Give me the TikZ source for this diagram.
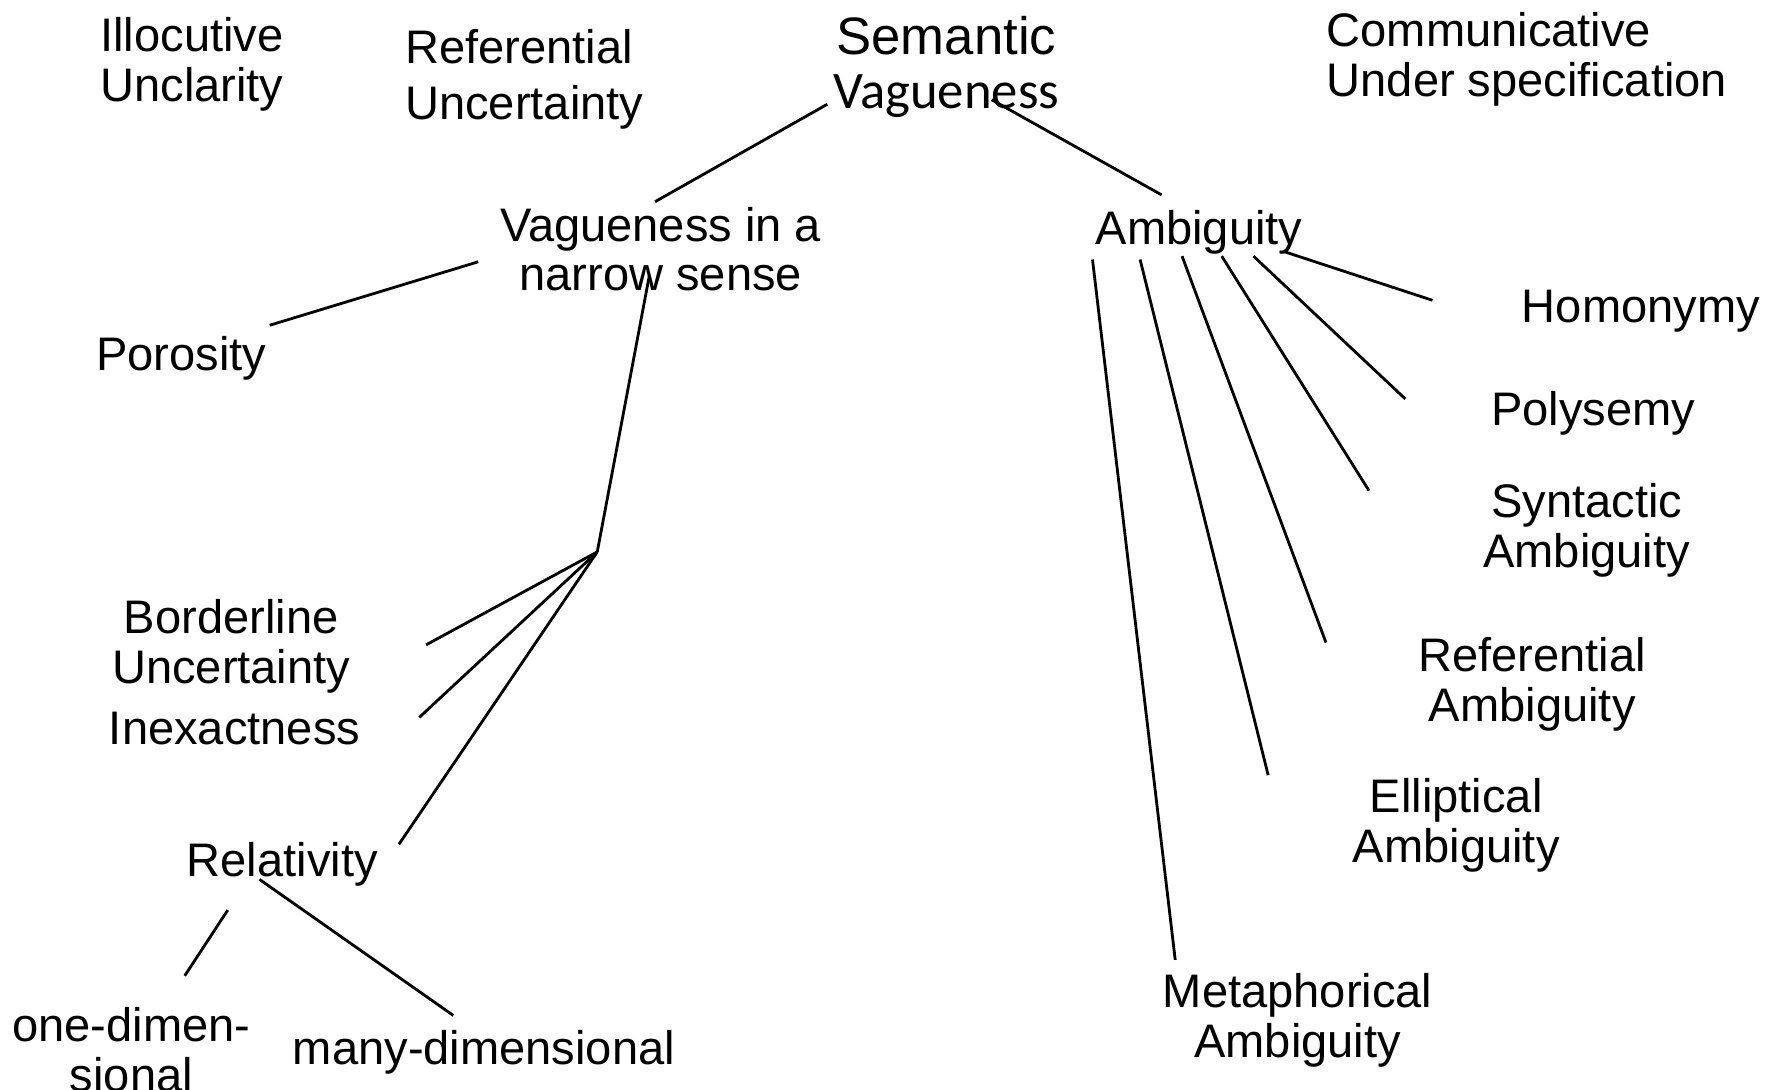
\documentclass[tikz,border=0pt]{standalone}
\usepackage{fontspec}
\setmainfont{Liberation Sans}
\newfontfamily\calibrifont{Carlito}

\begin{document}
\begin{tikzpicture}[x=0.011333cm, y=-0.011333cm,
    lbl/.style={inner sep=0pt, anchor=north, align=center, font=\fontsize{13.4}{14.2}\selectfont},
    lbll/.style={lbl, anchor=north west, align=left},
    link/.style={line width=0.8pt}]
    \useasboundingbox (0,0) rectangle (1568,961);
    % Top row of labels
    \node[lbll] (illo) at (88,15) {Illocutive\\Unclarity};
    \node[lbll, font=\fontsize{13.4}{16.1}\selectfont] (refu) at (357,25) {Referential\\Uncertainty};
    \node[lbl, font=\fontsize{15}{15.4}\selectfont] (sem) at (835,14) {Semantic\\\calibrifont Vagueness};
    \node[lbll] (comm) at (1170,10) {Communicative\\Under specification};
    % Second level
    \node[lbl] (narrow) at (583,182) {Vagueness in a\\narrow sense};
    \node[lbl] (amb) at (1058,185) {Ambiguity};
    % Left branch
    \node[lbl] (poro) at (160,296) {Porosity};
    \node[lbl] (bord) at (204,528) {Borderline\\Uncertainty};
    \node[lbl] (inex) at (207,628) {Inexactness};
    \node[lbl] (rela) at (249,743) {Relativity};
    \node[lbl] (oned) at (116,888) {one-dimen-\\sional};
    \node[lbl] (many) at (427,909) {many-dimensional};
    % Right branch
    \node[lbl] (homo) at (1448,255) {Homonymy};
    \node[lbl] (poly) at (1406,345) {Polysemy};
    \node[lbl] (synt) at (1400,426) {Syntactic\\Ambiguity};
    \node[lbl] (refa) at (1352,562) {Referential\\Ambiguity};
    \node[lbl] (elli) at (1285,686) {Elliptical\\Ambiguity};
    \node[lbl] (meta) at (1145,858) {Metaphorical\\Ambiguity};
    % Line ends
    \coordinate (semL) at (730,92);
    \coordinate (semR) at (875,88);
    \coordinate (narrowT) at (578,178);
    \coordinate (narrowL) at (422,231);
    \coordinate (narrowB) at (573,243);
    \coordinate (ambT) at (1025,172);
    \coordinate (poroT) at (238,287);
    \coordinate (hub) at (527,487);
    \coordinate (bordT) at (376,569);
    \coordinate (inexT) at (370,633);
    \coordinate (relaT) at (352,745);
    \coordinate (relaL) at (201,803);
    \coordinate (relaB) at (229,776);
    \coordinate (onedT) at (163,861);
    \coordinate (manyT) at (400,896);
    % Draw the tree
    \draw[link] (semL) -- (narrowT);
    \draw[link] (semR) -- (ambT);
    \draw[link] (narrowL) -- (poroT);
    \draw[link] (narrowB) -- (hub);
    \foreach \t in {bordT,inexT,relaT}{
        \draw[link] (hub) -- (\t);
    }
    \draw[link] (relaL) -- (onedT);
    \draw[link] (relaB) -- (manyT);
    % Draw the fan below Ambiguity
    \foreach \sx/\sy/\ex/\ey in {1133/222/1264/265, 1106/226/1240/352, 1078/226/1208/433,
                                 1043/226/1170/567, 1006/229/1119/684, 964/229/1037/847}{
        \coordinate (fs) at (\sx,\sy);
        \coordinate (fe) at (\ex,\ey);
        \draw[link] (fs) -- (fe);
    }
\end{tikzpicture}
\end{document}
